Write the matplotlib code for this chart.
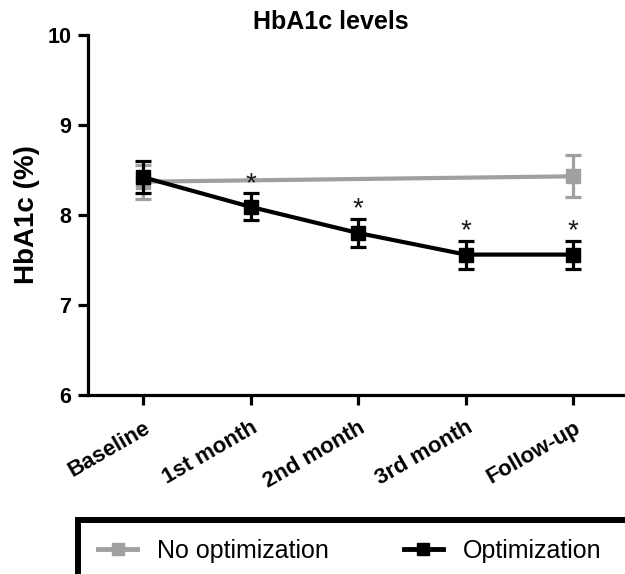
import matplotlib
matplotlib.use("Agg")
import matplotlib.pyplot as plt
import matplotlib.transforms as mtrans
from matplotlib.patches import Rectangle
from matplotlib.lines import Line2D
import numpy as np

plt.rcParams['font.family'] = ['Liberation Sans', 'DejaVu Sans']

categories = ["Baseline", "1st month", "2nd month", "3rd month", "Follow-up"]
no_opt_mean = [8.37, None, None, None, 8.43]
no_opt_err = [0.19, None, None, None, 0.235]
opt_mean = [8.42, 8.09, 7.80, 7.56, 7.56]
opt_err = [0.175, 0.15, 0.16, 0.155, 0.155]
significant = [False, True, True, True, True]
series_labels = ["No optimization", "Optimization"]

W, H = 625, 574
fig = plt.figure(figsize=(W / 100, H / 100), dpi=100)
ax = fig.add_axes([88 / W, (H - 395) / H, (W - 88) / W, 360 / H])

x = np.arange(len(categories))
gray = "#a0a0a0"

mask = [m is not None for m in no_opt_mean]
gx = x[mask]
gy = np.array([m for m in no_opt_mean if m is not None])
ge = np.array([e for e in no_opt_err if e is not None])

ax.errorbar(gx, gy, yerr=ge, color=gray, lw=3, marker='s', ms=9.5,
            capsize=6, capthick=2.3, elinewidth=2.3, zorder=2, clip_on=False)
ax.errorbar(x, opt_mean, yerr=opt_err, color='black', lw=3, marker='s', ms=9.5,
            capsize=6, capthick=2.3, elinewidth=2.3, zorder=3, clip_on=False)

for xi, m, e, s in zip(x, opt_mean, opt_err, significant):
    if s:
        off = mtrans.offset_copy(ax.transData, fig=fig, x=0, y=1.5, units='points')
        ax.text(xi, m + e, "*", ha='center', va='baseline', fontsize=20,
                color='#1a1a1a', transform=off)

ax.set_xlim(-0.512, 4.48)
ax.set_ylim(6, 10)
ax.set_yticks([6, 7, 8, 9, 10])
ax.set_xticks(x)
ax.set_xticklabels(categories, rotation=30, ha='right', va='top', rotation_mode='anchor',
                   fontsize=16, fontweight='bold')
shift = mtrans.ScaledTranslation(3 / 100, 0, fig.dpi_scale_trans)
for lab in ax.get_xticklabels():
    lab.set_transform(lab.get_transform() + shift)
for lab in ax.get_yticklabels():
    lab.set_fontsize(15.5)
    lab.set_fontweight('bold')

for s in ['top', 'right']:
    ax.spines[s].set_visible(False)
for s in ['left', 'bottom']:
    ax.spines[s].set_linewidth(2.3)
ax.tick_params(axis='both', length=7, width=2.3, direction='out')
ax.tick_params(axis='y', pad=5)
ax.tick_params(axis='x', pad=9)

ax.set_ylabel("HbA1c (%)", fontsize=20, fontweight='bold')
ax.yaxis.set_label_coords(-0.09, 0.5)
fig.text(331 / W, 1 - 22 / H, "HbA1c levels", ha='center', va='center',
         fontsize=18, fontweight='bold')

frame = Rectangle((78 / W, -0.2), 1.2, 0.2 + (H - 520) / H, transform=fig.transFigure,
                  fill=False, edgecolor='black', linewidth=4.3, clip_on=False)
fig.add_artist(frame)

handles = [Line2D([], [], color=gray, lw=3.5, marker='s', ms=8),
           Line2D([], [], color='black', lw=3.5, marker='s', ms=8)]
fig.legend(handles, series_labels, ncol=2,
           loc='center left', bbox_to_anchor=(98 / W, (H - 551) / H),
           frameon=False, fontsize=18, handlelength=1.56, handletextpad=0.8,
           columnspacing=3.0, borderpad=0, borderaxespad=0)

fig.savefig("out.png", dpi=100)
